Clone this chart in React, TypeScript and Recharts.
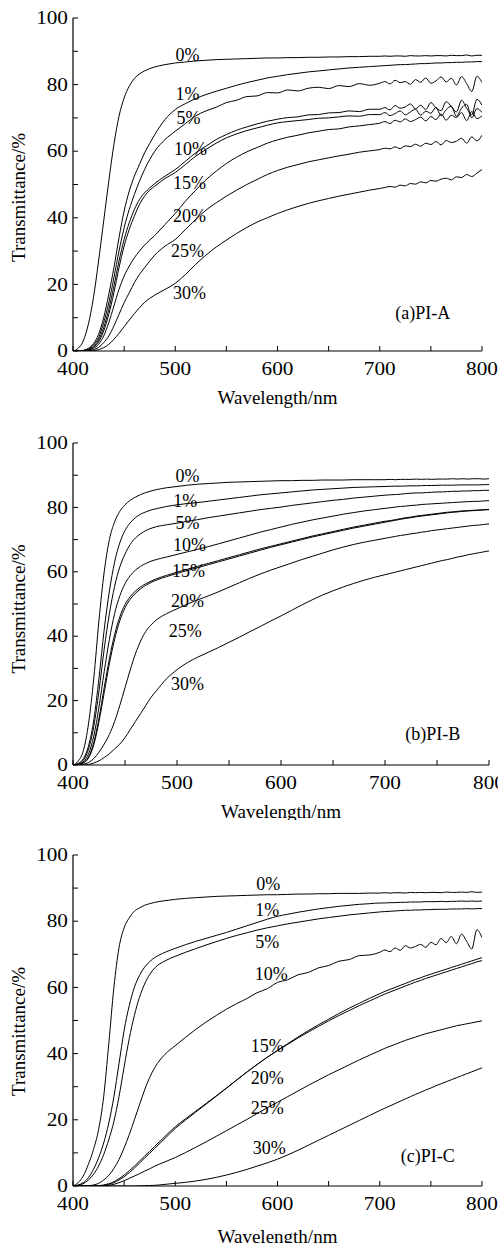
import { LineChart, Line, XAxis, YAxis, ReferenceDot } from 'recharts';

// wavelength grid (nm) shared by all three panels
const wavelengths = [
  400, 405, 410, 415, 420, 425, 430, 435, 440, 445, 450, 455, 460, 465, 470, 475, 480,
  490, 500, 510, 520, 530, 540, 550, 560, 570, 580, 590, 600, 610, 620, 630, 640, 650, 660, 670, 680, 690,
  700, 705, 710, 715, 720, 725, 730, 735, 740, 745, 750, 755, 760, 765, 770, 775, 780, 785, 790, 795, 800,
];

const seriesNames = ['0%', '1%', '5%', '10%', '15%', '20%', '25%', '30%'];
const xTicks = [400, 450, 500, 550, 600, 650, 700, 750, 800];
const yTicks = [0, 10, 20, 30, 40, 50, 60, 70, 80, 90, 100];

// (a) PI-A transmittance, %
const a0 = [
  0, 0.8, 3, 8, 16, 27, 39, 51, 62, 70.5, 76, 79.5, 81.8, 83.2, 84.1, 84.8, 85.3,
  86.0, 86.5, 86.8, 87.1, 87.3, 87.5, 87.6, 87.7, 87.8, 87.9, 88.0, 88.0, 88.1, 88.1, 88.2, 88.2, 88.3, 88.3, 88.4, 88.4, 88.5,
  88.5, 88.6, 88.5, 88.6, 88.6, 88.5, 88.7, 88.6, 88.6, 88.7, 88.6, 88.7, 88.7, 88.6, 88.8, 88.7, 88.7, 88.9, 88.6, 88.8, 88.8,
];
const a1 = [
  0, 0, 0.2, 0.8, 2.2, 5, 10, 17, 25, 34, 42, 48, 52.5, 56, 59.5, 62.3, 65,
  69.5, 72.5, 74.3, 75.8, 77, 78, 78.9, 79.8, 80.6, 81.3, 82, 82.5, 83, 83.4, 83.8, 84.1, 84.4, 84.7, 85, 85.2, 85.4,
  85.6, 85.7, 85.8, 85.9, 86.0, 86.0, 86.1, 86.2, 86.3, 86.3, 86.4, 86.5, 86.5, 86.6, 86.6, 86.7, 86.7, 86.8, 86.8, 86.9, 86.9,
];
const a5 = [
  0, 0, 0.1, 0.6, 1.8, 4, 8.5, 14.5, 22, 30, 37, 42.5, 47, 51, 54.5, 57.5, 60,
  63.5, 66, 68.3, 70.6, 72.1, 73.2, 74.6, 75.3, 76.4, 76.6, 77.6, 77.5, 78.4, 78.1, 78.9, 79.2, 78.8, 79.7, 79.4, 80.3, 79.8,
  80.4, 80.9, 80.2, 81.3, 80.6, 80.9, 80.1, 81.5, 80.7, 82.0, 80.4, 81.1, 82.3, 80.8, 81.9, 79.9, 82.4, 80.3, 77.9, 82.5, 80.6,
];
const a10 = [
  0, 0, 0.1, 0.4, 1.4, 3.3, 7, 12.5, 19.5, 27, 33.5, 38.5, 42.5, 45.5, 47.5, 49, 50.3,
  52.5, 54.5, 57, 59.5, 61.5, 63.5, 65, 66.3, 67.3, 68.2, 69.0, 69.6, 70.1, 70.3, 70.9, 71.0, 71.5, 71.6, 72.1, 71.9, 72.6,
  72.6, 73.1, 72.4, 73.7, 72.9, 73.3, 74.2, 72.7, 73.8, 72.5, 74.6, 73.0, 72.2, 74.9, 73.4, 71.8, 75.3, 72.9, 70.9, 75.6, 73.8,
];
const a15 = [
  0, 0, 0, 0.3, 1.1, 2.7, 6, 11, 17.5, 25, 31.5, 36.5, 40.5, 44, 46.5, 48.3, 49.5,
  51.8, 53.6, 56, 58.5, 60.5, 62.4, 64, 65.2, 66.2, 67, 67.8, 68.5, 68.9, 69.2, 69.5, 69.9, 70.0, 70.3, 70.6, 70.5, 71.0,
  71.0, 71.6, 70.7, 71.3, 72.1, 70.9, 71.8, 72.6, 70.8, 72.0, 71.4, 73.2, 70.6, 72.5, 73.5, 70.5, 72.9, 74.1, 70.0, 72.8, 71.6,
];
const a20 = [
  0, 0, 0, 0.2, 0.8, 2, 4.5, 8.5, 13.5, 18.5, 22.5, 25.5, 28, 30, 31.8, 33.3, 34.7,
  38, 41.3, 45, 48.3, 51.4, 54, 56.3, 58.2, 59.8, 61.1, 62.4, 63.4, 64.2, 64.8, 65.5, 66, 66.5, 66.7, 67.3, 67.6, 68,
  68.4, 68.9, 68.3, 69.3, 68.8, 69.7, 68.9, 69.5, 70.2, 69.1, 70.4, 69.5, 71.2, 69.3, 70.8, 70.1, 71.6, 69.2, 71.9, 69.8, 70.6,
];
const a25 = [
  0, 0, 0, 0.1, 0.4, 1.1, 2.5, 4.5, 7.5, 11, 14.5, 17.5, 20.5, 23, 25, 27, 28.8,
  31.5, 33.5, 36.5, 39.5, 42.3, 44.5, 46.5, 48.3, 50, 51.5, 53, 54.2, 55.2, 56, 56.8, 57.4, 58, 58.6, 59.1, 59.7, 60.1,
  60.5, 60.9, 60.7, 61.3, 60.8, 61.6, 61.4, 62.1, 61.5, 62.4, 62.0, 62.9, 61.9, 63.2, 62.6, 63.0, 63.9, 62.4, 64.3, 63.1, 64.8,
];
const a30 = [
  0, 0, 0, 0, 0.1, 0.4, 1, 2, 3.5, 5.3, 7.3, 9.3, 11.2, 13, 14.6, 15.8, 16.8,
  18.5, 20.3, 23, 26, 28.8, 31.2, 33.3, 35.3, 37.1, 38.7, 40, 41.3, 42.4, 43.4, 44.3, 45.1, 45.8, 46.5, 47.1, 47.7, 48.3,
  48.8, 49.1, 49.4, 49.2, 49.8, 49.6, 50.3, 50.1, 50.8, 50.5, 51.2, 51.0, 51.6, 51.9, 51.4, 52.3, 52.1, 53.0, 52.4, 53.4, 54.5,
];

// (b) PI-B transmittance, %
const b0 = [
  0, 1.2, 4.5, 13, 27, 45, 60, 70, 75.5, 78.8, 80.8, 82.2, 83.2, 84, 84.6, 85.1, 85.5,
  86.1, 86.5, 86.9, 87.2, 87.4, 87.6, 87.8, 87.9, 88.0, 88.1, 88.2, 88.3, 88.3, 88.4, 88.4, 88.5, 88.5, 88.5, 88.6, 88.6, 88.6,
  88.6, 88.7, 88.6, 88.7, 88.7, 88.7, 88.8, 88.7, 88.8, 88.7, 88.8, 88.8, 88.8, 88.9, 88.8, 88.9, 88.8, 88.9, 88.9, 88.8, 88.9,
];
const b1 = [
  0, 0.5, 2, 6, 14, 27, 42, 54, 63, 69, 72.8, 75.2, 76.8, 77.9, 78.6, 79.2, 79.6,
  80.3, 80.8, 81.2, 81.5, 81.9, 82.3, 82.7, 83.1, 83.5, 83.9, 84.2, 84.5, 84.8, 85.1, 85.4, 85.6, 85.8, 86.0, 86.2, 86.3, 86.4,
  86.5, 86.55, 86.6, 86.6, 86.65, 86.7, 86.7, 86.75, 86.8, 86.8, 86.85, 86.9, 86.9, 86.9, 86.95, 87.0, 87.0, 87.0, 87.0, 87.05, 87.1,
];
const b5 = [
  0, 0.3, 1.5, 5, 12, 23, 36, 47, 55.5, 61.5, 65.5, 68.5, 70.5, 71.8, 72.8, 73.5, 74,
  74.6, 75.1, 75.7, 76.2, 76.8, 77.3, 77.8, 78.3, 78.8, 79.3, 79.7, 80.1, 80.6, 81, 81.4, 81.8, 82.2, 82.5, 82.9, 83.2, 83.5,
  83.8, 83.9, 84.0, 84.1, 84.3, 84.4, 84.5, 84.5, 84.6, 84.7, 84.8, 84.8, 84.9, 85.0, 85.0, 85.1, 85.1, 85.2, 85.2, 85.3, 85.3,
];
const b10 = [
  0, 0.2, 1, 3.5, 9, 18, 29, 39, 47, 52.5, 56.3, 58.8, 60.5, 61.7, 62.6, 63.3, 63.8,
  64.6, 65.4, 66.2, 67, 67.8, 68.7, 69.6, 70.5, 71.4, 72.3, 73.1, 73.9, 74.7, 75.4, 76.1, 76.7, 77.3, 77.9, 78.4, 78.9, 79.3,
  79.7, 79.9, 80.1, 80.3, 80.4, 80.6, 80.7, 80.9, 81.0, 81.1, 81.2, 81.3, 81.4, 81.5, 81.6, 81.7, 81.8, 81.85, 81.9, 82.0, 82.1,
];
const b15 = [
  0, 0.1, 0.7, 2.5, 7, 14.5, 24, 33, 40.5, 46, 49.8, 52.3, 54, 55.3, 56.3, 57.1, 57.8,
  58.9, 59.9, 60.8, 61.7, 62.6, 63.5, 64.4, 65.3, 66.2, 67.1, 67.9, 68.7, 69.5, 70.3, 71.1, 71.8, 72.5, 73.2, 73.9, 74.5, 75.1,
  75.7, 75.9, 76.2, 76.5, 76.8, 77.0, 77.3, 77.5, 77.7, 77.9, 78.1, 78.3, 78.5, 78.6, 78.8, 78.9, 79.0, 79.1, 79.2, 79.3, 79.4,
];
const b20 = [
  0, 0.1, 0.6, 2.2, 6.3, 13.5, 22.5, 31.5, 39, 44.8, 48.8, 51.5, 53.3, 54.7, 55.8, 56.7, 57.4,
  58.5, 59.5, 60.4, 61.3, 62.2, 63.1, 64.0, 64.9, 65.8, 66.7, 67.6, 68.4, 69.2, 70.0, 70.8, 71.5, 72.2, 72.9, 73.6, 74.2, 74.8,
  75.4, 75.7, 76.0, 76.3, 76.6, 76.8, 77.1, 77.3, 77.5, 77.7, 77.9, 78.1, 78.3, 78.5, 78.6, 78.8, 78.9, 79.0, 79.1, 79.2, 79.3,
];
const b25 = [
  0, 0, 0.2, 0.8, 2, 4, 6.5, 9.5, 13.5, 18.5, 24, 29.5, 34.5, 38.5, 41.5, 43.5, 45,
  47, 48.5, 50, 51.3, 52.5, 53.8, 55.2, 56.6, 58, 59.3, 60.5, 61.6, 62.7, 63.8, 64.8, 65.8, 66.8, 67.7, 68.5, 69.2, 69.8,
  70.4, 70.7, 71, 71.3, 71.5, 71.8, 72, 72.3, 72.5, 72.8, 73, 73.2, 73.4, 73.6, 73.8, 74, 74.2, 74.4, 74.5, 74.7, 74.9,
];
const b30 = [
  0, 0, 0, 0.2, 0.6, 1.3, 2.3, 3.5, 5, 6.5, 8.5, 11, 13.5, 16, 18.5, 21, 23,
  26.8, 29.6, 31.8, 33.5, 35, 36.5, 38.1, 39.7, 41.4, 43, 44.7, 46.3, 48, 49.7, 51.3, 52.8, 54.1, 55.3, 56.4, 57.4, 58.3,
  59.1, 59.5, 59.9, 60.3, 60.7, 61.1, 61.5, 61.9, 62.3, 62.7, 63.1, 63.5, 63.8, 64.2, 64.6, 64.9, 65.3, 65.6, 65.9, 66.2, 66.5,
];

// (c) PI-C transmittance, %
const c0 = [
  0, 1, 3, 6.5, 11, 17, 27, 43, 60, 72, 78, 81, 83, 84, 84.8, 85.3, 85.7,
  86.2, 86.6, 86.9, 87.1, 87.3, 87.5, 87.6, 87.7, 87.8, 87.9, 88.0, 88.0, 88.1, 88.2, 88.2, 88.3, 88.3, 88.4, 88.4, 88.4, 88.5,
  88.5, 88.6, 88.5, 88.6, 88.6, 88.5, 88.7, 88.6, 88.7, 88.6, 88.7, 88.7, 88.6, 88.8, 88.7, 88.7, 88.8, 88.7, 88.9, 88.7, 88.8,
];
const c1 = [
  0, 0.3, 1, 2.5, 5, 8.5, 13, 19, 27, 37, 47, 54.5, 60, 63.6, 66.1, 67.8, 69,
  70.6, 71.8, 72.9, 73.9, 74.8, 75.7, 76.6, 77.6, 78.6, 79.6, 80.6, 81.5, 82.1, 82.7, 83.2, 83.7, 84.1, 84.5, 84.8, 85.1, 85.3,
  85.5, 85.5, 85.6, 85.6, 85.7, 85.7, 85.8, 85.8, 85.8, 85.9, 85.9, 85.9, 86.0, 85.9, 86.0, 86.0, 86.1, 86.0, 86.1, 86.0, 86.1,
];
const c5 = [
  0, 0.2, 0.7, 1.8, 3.5, 6, 9.5, 14, 19.5, 27, 36, 44.5, 51.5, 57, 61, 63.9, 65.9,
  68.0, 69.4, 70.6, 71.7, 72.8, 73.8, 74.8, 75.7, 76.5, 77.3, 78, 78.6, 79.2, 79.7, 80.2, 80.7, 81.1, 81.5, 81.9, 82.2, 82.5,
  82.8, 82.9, 83.0, 83.1, 83.2, 83.3, 83.3, 83.4, 83.4, 83.5, 83.5, 83.6, 83.6, 83.6, 83.7, 83.7, 83.7, 83.8, 83.7, 83.8, 83.8,
];
const c10 = [
  0, 0, 0, 0.1, 0.3, 0.8, 1.8, 3.2, 5.3, 8, 11.5, 15.5, 20, 24.5, 29, 32.8, 35.8,
  39.8, 42.4, 44.9, 47.3, 49.5, 51.5, 53.4, 55.1, 56.6, 58.4, 59.6, 61.5, 62.3, 63.8, 64.5, 65.9, 66.6, 67.9, 68.4, 69.6, 69.8,
  70.6, 71.3, 70.8, 71.9, 71.2, 72.6, 71.9, 72.4, 73.0, 72.1, 73.6, 72.9, 74.8, 73.5, 75.4, 73.2, 76.1, 73.9, 71.6, 77.4, 75.0,
];
const c15 = [
  0, 0, 0, 0, 0, 0.1, 0.3, 0.7, 1.3, 2.2, 3.3, 4.6, 6, 7.5, 9, 10.5, 12,
  15, 17.9, 20.3, 22.6, 24.9, 27.2, 29.6, 32, 34.4, 36.7, 38.9, 41, 43, 45, 46.9, 48.7, 50.4, 52.1, 53.7, 55.2, 56.7,
  58.1, 58.8, 59.4, 60.0, 60.6, 61.2, 61.8, 62.4, 62.9, 63.5, 64.0, 64.5, 65.0, 65.5, 66.0, 66.5, 67.0, 67.5, 68.0, 68.5, 69.0,
];
const c20 = [
  0, 0, 0, 0, 0, 0, 0.2, 0.5, 1, 1.8, 2.8, 4, 5.4, 6.9, 8.4, 9.9, 11.4,
  14.4, 17.4, 19.9, 22.3, 24.7, 27.1, 29.5, 32, 34.4, 36.7, 38.9, 40.9, 42.8, 44.7, 46.5, 48.2, 49.9, 51.5, 53, 54.5, 55.9,
  57.3, 58.0, 58.6, 59.2, 59.8, 60.4, 61.0, 61.6, 62.1, 62.7, 63.2, 63.7, 64.2, 64.7, 65.2, 65.7, 66.2, 66.7, 67.2, 67.7, 68.1,
];
const c25 = [
  0, 0, 0, 0, 0, 0, 0, 0.2, 0.5, 1, 1.6, 2.3, 3, 3.7, 4.5, 5.2, 6,
  7.3, 8.6, 10.1, 11.7, 13.3, 15, 16.7, 18.4, 20.1, 21.9, 23.6, 25.3, 27, 28.7, 30.4, 32, 33.6, 35.1, 36.6, 38.1, 39.5,
  40.9, 41.6, 42.2, 42.8, 43.4, 44.0, 44.5, 45.0, 45.5, 46.0, 46.4, 46.8, 47.2, 47.6, 48.0, 48.4, 48.7, 49.0, 49.3, 49.6, 49.9,
];
const c30 = [
  0, 0, 0, 0, 0, 0, 0, 0, 0, 0, 0, 0, 0, 0.05, 0.1, 0.15, 0.2,
  0.5, 0.8, 1.1, 1.5, 2, 2.6, 3.3, 4.1, 5, 6, 7, 8.1, 9.4, 10.8, 12.3, 13.8, 15.3, 16.8, 18.3, 19.8, 21.3,
  22.8, 23.5, 24.2, 24.9, 25.6, 26.3, 27.0, 27.7, 28.3, 29.0, 29.6, 30.3, 30.9, 31.5, 32.1, 32.7, 33.3, 33.9, 34.5, 35.1, 35.7,
];

// where each curve's label sits, [wavelength, transmittance]
const spotsA = [[512, 88.9], [512, 77.4], [513, 70.1], [515, 60.7], [514, 50.7], [514, 40.7], [512, 30.2], [514, 17.5]];
const spotsB = [[510, 89.9], [508, 82.1], [510, 75.2], [512, 68.3], [511, 60.5], [510, 51.2], [508, 41.8], [510, 25.2]];
const spotsC = [[591, 91.5], [590, 83.6], [590, 73.9], [594, 64.3], [590, 42.3], [590, 32.7], [590, 23.7], [592, 11.6]];

const FONT = '"Liberation Serif", "Times New Roman", serif';
const STRETCH = 1.18;

const makeRows = (series: number[][]) =>
  wavelengths.map((w, i) => {
    const row: Record<string, number> = { w };
    series.forEach((s, k) => {
      row['s' + k] = s[i];
    });
    return row;
  });

// tick numbers in the source are set wider than plain Times, so stretch them sideways
const XTick = ({ x, y, payload }: any) => {
  const v = payload.value;
  if (v % 100 !== 0) return null;
  return (
    <text x={x} y={y} dy="0.71em" textAnchor="middle" fontSize={18} fontFamily={FONT} fill="#000"
      transform={`matrix(${STRETCH} 0 0 1 ${(1 - STRETCH) * x} 0)`}>
      {v}
    </text>
  );
};

const YTick = ({ x, y, payload }: any) => {
  const v = payload.value;
  if (v % 20 !== 0) return null;
  return (
    <text x={x} y={y} dy="0.35em" textAnchor="end" fontSize={18} fontFamily={FONT} fill="#000"
      transform={`matrix(${STRETCH} 0 0 1 ${(1 - STRETCH) * x} 0)`}>
      {v}
    </text>
  );
};

type PanelProps = {
  series: number[][];
  spots: number[][];
  tag: string;
  tagSpot: number[];
  top: number;
  height: number;
  margin: { top: number; right: number; left: number; bottom: number };
  xAxisHeight: number;
  xTitleGap: number;
  yTitleShift: number;
};

const Panel = ({ series, spots, tag, tagSpot, top, height, margin, xAxisHeight, xTitleGap, yTitleShift }: PanelProps) => {
  const rows = makeRows(series);
  const axisLine = { stroke: '#000', strokeWidth: 1.2 };
  const tickLine = { stroke: '#000', strokeWidth: 1 };
  const textStyle = { fill: '#000', fontSize: 18, fontFamily: FONT };

  return (
    <div style={{ position: 'absolute', left: 0, top, width: 498, height }}>
      <LineChart width={498} height={height} data={rows} margin={margin}>
        <XAxis
          xAxisId="b"
          dataKey="w"
          type="number"
          domain={[400, 800]}
          allowDataOverflow
          ticks={xTicks}
          interval={0}
          tickSize={-5}
          tickMargin={16}
          height={xAxisHeight}
          axisLine={axisLine}
          tickLine={tickLine}
          tick={<XTick />}
          label={{
            content: (p: any) => {
              const vb = p.viewBox || {};
              return (
                <text x={vb.x + vb.width / 2} y={vb.y + xTitleGap} textAnchor="middle" dominantBaseline="central" fontSize={19} fontFamily={FONT} fill="#000">
                  Wavelength/nm
                </text>
              );
            },
          }}
        />
        <XAxis
          xAxisId="t"
          orientation="top"
          dataKey="w"
          type="number"
          domain={[400, 800]}
          allowDataOverflow
          ticks={xTicks}
          interval={0}
          tickFormatter={() => ''}
          tickSize={-5}
          height={0}
          axisLine={axisLine}
          tickLine={tickLine}
        />
        <YAxis
          yAxisId="l"
          type="number"
          domain={[0, 100]}
          allowDataOverflow
          ticks={yTicks}
          interval={0}
          tickSize={-5}
          tickMargin={10}
          width={73}
          axisLine={axisLine}
          tickLine={tickLine}
          tick={<YTick />}
          label={{
            content: (p: any) => {
              const vb = p.viewBox || {};
              const cy = vb.y + vb.height / 2 + yTitleShift;
              return (
                <text x={18.5} y={cy} transform={`rotate(-90 18.5 ${cy})`} textAnchor="middle" dominantBaseline="central" fontSize={19} fontFamily={FONT} fill="#000">
                  Transmittance/%
                </text>
              );
            },
          }}
        />
        <YAxis
          yAxisId="r"
          orientation="right"
          type="number"
          domain={[0, 100]}
          allowDataOverflow
          ticks={yTicks}
          interval={0}
          tickFormatter={() => ''}
          tickSize={-5}
          width={0}
          axisLine={axisLine}
          tickLine={tickLine}
        />
        {series.map((_, k) => (
          <Line
            key={k}
            xAxisId="b"
            yAxisId="l"
            dataKey={'s' + k}
            type="monotone"
            stroke="#000"
            strokeWidth={1}
            dot={false}
            activeDot={false}
            isAnimationActive={false}
          />
        ))}
        {spots.map(([x, y], i) => (
          <ReferenceDot
            key={'lbl' + i}
            xAxisId="b"
            yAxisId="l"
            x={x}
            y={y}
            r={0}
            fill="none"
            stroke="none"
            label={{ value: seriesNames[i], position: 'center', ...textStyle }}
          />
        ))}
        <ReferenceDot
          xAxisId="b"
          yAxisId="l"
          x={tagSpot[0]}
          y={tagSpot[1]}
          r={0}
          fill="none"
          stroke="none"
          label={{ value: tag, position: 'center', ...textStyle }}
        />
      </LineChart>
    </div>
  );
};

export default function App() {
  return (
    <div style={{ position: 'absolute', left: 0, top: 0, width: 498, height: 1243, background: '#fff', overflow: 'hidden' }}>
      <Panel
        series={[a0, a1, a5, a10, a15, a20, a25, a30]}
        spots={spotsA}
        tag="(a)PI-A"
        tagSpot={[742, 11.4]}
        top={0}
        height={410}
        margin={{ top: 18, right: 16, left: 0, bottom: 0 }}
        xAxisHeight={59}
        xTitleGap={46}
        yTitleShift={13}
      />
      <Panel
        series={[b0, b1, b5, b10, b15, b20, b25, b30]}
        spots={spotsB}
        tag="(b)PI-B"
        tagSpot={[746, 9.9]}
        top={410}
        height={410}
        margin={{ top: 33, right: 9, left: 0, bottom: 0 }}
        xAxisHeight={55}
        xTitleGap={46}
        yTitleShift={5}
      />
      <Panel
        series={[c0, c1, c5, c10, c15, c20, c25, c30]}
        spots={spotsC}
        tag="(c)PI-C"
        tagSpot={[747, 9.1]}
        top={820}
        height={423}
        margin={{ top: 35, right: 16, left: 0, bottom: 0 }}
        xAxisHeight={57}
        xTitleGap={50}
        yTitleShift={11}
      />
    </div>
  );
}
